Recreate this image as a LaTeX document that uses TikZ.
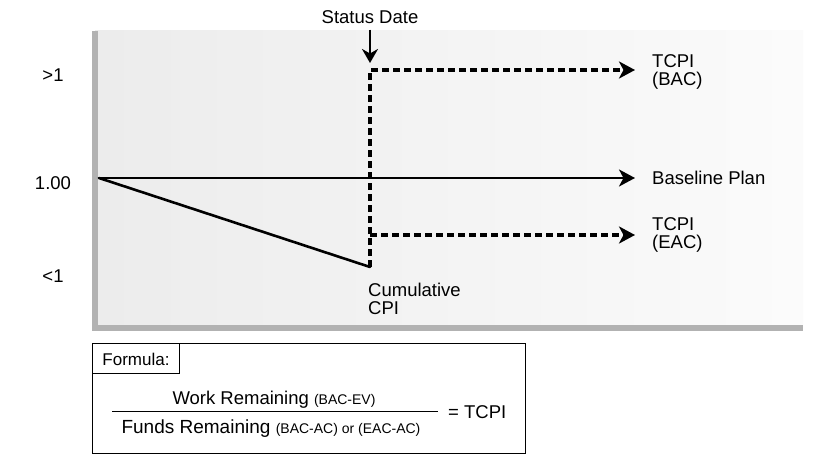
\documentclass[tikz,border=0pt]{standalone}
\usepackage{fontspec}
\setmainfont{Liberation Sans}
\usetikzlibrary{arrows.meta}

\tikzset{
  lbl/.style={font=\fontsize{18.5}{18}\selectfont, inner sep=0pt, align=left},
  axisbar/.style={draw=gray!60, line width=6pt},
  trend/.style={line width=2.6pt, line cap=round},
  tcpi/.style={line width=4.2pt, dash pattern=on 7pt off 4pt},
}
\newcommand{\smallpart}[1]{{\fontsize{14}{14}\selectfont #1}}

\begin{document}
\begin{tikzpicture}[>={Stealth[length=16pt,width=17pt,inset=4.5pt]}, x=1pt, y=-1pt]
  \useasboundingbox (0,0) rectangle (820,462);
  % chart background
  \shade[left color=gray!15, middle color=gray!11, right color=gray!3] (95,31) rectangle (803,328);
  \draw[axisbar] (95,31) -- (95,331);
  \draw[axisbar] (92,328) -- (803,328);

  % left scale
  \node[lbl] (gt) at (53,75) {>1};
  \node[lbl] (one) at (53,183) {1.00};
  \node[lbl] (lt) at (53,276) {<1};

  % lines
  \coordinate (o) at (99,178);
  \coordinate (cpi) at (370,267);
  \coordinate (bacend) at (635,70);
  \coordinate (eacstart) at (370,235);
  \coordinate (eacend) at (635,235);
  \node[lbl, anchor=west] (plan) at (652,178) {Baseline Plan};
  \draw[trend, ->] (o) -- (plan.west -| bacend);
  \draw[trend] (o) -- (cpi);
  \draw[tcpi, ->] (cpi) |- (bacend);
  \draw[tcpi, ->] (eacstart) -- (eacend);

  % status date
  \node[lbl, inner ysep=6pt] (sd) at (370,17) {Status Date};
  \coordinate (sdtip) at (370,63);
  \draw[line width=2.2pt, ->, >={Stealth[length=14pt,width=16pt,inset=4.5pt]}] (sd) -- (sdtip);

  % labels
  \node[lbl, anchor=west] (bac) at (652,72) {TCPI\\(BAC)};
  \node[lbl, anchor=west] (eac) at (652,235) {TCPI\\(EAC)};
  \node[lbl, anchor=north west] (cum) at (368,283) {Cumulative\\CPI};

  % formula box
  \draw[line width=0.9pt] (92,343) rectangle (525,453);
  \draw[line width=0.9pt] (92,343) rectangle (179,373);
  \node[lbl, font=\fontsize{17}{17}\selectfont] (form) at (136,359) {Formula:};
  \coordinate (fl) at (112,412);
  \coordinate (fr) at (438,412);
  \draw[line width=1pt] (fl) -- (fr);
  \node[lbl] (work) at (274,400) {Work Remaining \smallpart{(BAC-EV)}};
  \node[lbl, font=\fontsize{19}{18}\selectfont] (funds) at (271,429) {Funds Remaining \smallpart{(BAC-AC) or (EAC-AC)}};
  \node[lbl, anchor=west] (eq) at (448,412) {= TCPI};
\end{tikzpicture}
\end{document}
